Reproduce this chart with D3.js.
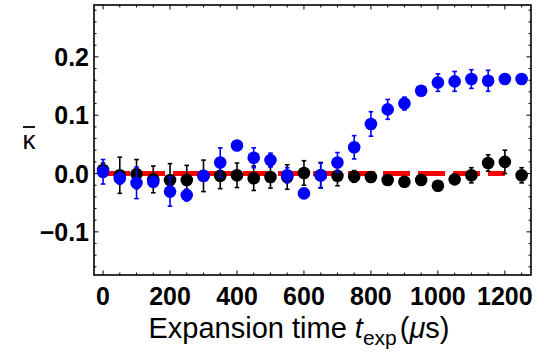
<!DOCTYPE html>
<html>
<head>
<meta charset="utf-8">
<script src="https://cdn.jsdelivr.net/npm/d3@7"></script>
<style>
  html, body { margin: 0; padding: 0; background: #fff; }
  svg { display: block; }
</style>
</head>
<body>
<div id="chart"></div>
<script>
// expansion times (us)
const times = [0, 50, 100, 150, 200, 250, 300, 350, 400, 450, 500, 550, 600,
  650, 700, 750, 800, 850, 900, 950, 1000, 1050, 1100, 1150, 1200, 1250];

const blueVals = [0.003, -0.008, -0.016, -0.014, -0.031, -0.037, -0.004, 0.019, 0.048, 0.027, 0.023, -0.003, -0.034,
  -0.003, 0.019, 0.045, 0.085, 0.110, 0.120, 0.142, 0.156, 0.158, 0.162, 0.159, 0.162, 0.162];
const blueErr = [0.021, 0.010, 0.027, 0.008, 0.025, 0.010, 0.008, 0.025, 0.006, 0.017, 0.012, 0.013, 0.005,
  0.021, 0.017, 0.020, 0.021, 0.017, 0.011, 0.006, 0.015, 0.017, 0.016, 0.018, 0.005, 0.005];

const blackVals = [0.006, -0.003, -0.001, -0.010, -0.011, -0.011, -0.004, -0.004, -0.003, -0.008, -0.006, -0.006, 0.001,
  -0.003, -0.004, -0.005, -0.006, -0.011, -0.014, -0.011, -0.021, -0.010, -0.003, 0.018, 0.020, -0.003];
const blackErr = [0.012, 0.031, 0.025, 0.023, 0.028, 0.025, 0.027, 0.022, 0.021, 0.021, 0.019, 0.021, 0.021,
  0.022, 0.017, 0.010, 0.008, 0.006, 0.005, 0.008, 0.008, 0.008, 0.013, 0.014, 0.020, 0.013];

// reference line
const refLine = [[0, 0], [1200, 0]];

const xTicks = [0, 200, 400, 600, 800, 1000, 1200];
const yTicks = [-0.1, 0.0, 0.1, 0.2];

const W = 545, H = 353;
const svg = d3.select('#chart').append('svg').attr('width', W).attr('height', H);

const x = d3.scaleLinear().domain([-27, 1278]).range([94, 531]);
const y = d3.scaleLinear().domain([-0.174, 0.289]).range([275, 5]);

const x0 = x.range()[0], x1 = x.range()[1];
const y0 = y.range()[0], y1 = y.range()[1];

// minor ticks
const xMinor = d3.range(0, 1251, 50).filter(d => !xTicks.includes(d));
const yMinor = d3.range(-16, 29, 2).map(d => d / 100).filter(d => Math.abs(Math.round(d * 100) % 10) !== 0);

const tickG = svg.append('g').attr('stroke', '#000').attr('stroke-width', 1);
function drawTicks(vals, len) {
  vals.forEach(v => {
    tickG.append('line').attr('x1', x(v)).attr('x2', x(v)).attr('y1', y0).attr('y2', y0 - len);
    tickG.append('line').attr('x1', x(v)).attr('x2', x(v)).attr('y1', y1).attr('y2', y1 + len);
  });
}
function drawYTicks(vals, len) {
  vals.forEach(v => {
    tickG.append('line').attr('y1', y(v)).attr('y2', y(v)).attr('x1', x0).attr('x2', x0 + len);
    tickG.append('line').attr('y1', y(v)).attr('y2', y(v)).attr('x1', x1).attr('x2', x1 - len);
  });
}
drawTicks(xTicks, 4.5);
drawTicks(xMinor, 2.5);
drawYTicks(yTicks, 4.5);
drawYTicks(yMinor, 2.5);

// red dashed reference
svg.append('path')
  .datum(refLine)
  .attr('fill', 'none')
  .attr('stroke', '#ff0000')
  .attr('stroke-width', 5)
  .attr('stroke-dasharray', '27,8')
  .attr('d', d3.line().x(d => x(d[0])).y(d => y(d[1])));

function drawSeries(vals, errs, color) {
  const g = svg.append('g');
  times.forEach((t, i) => {
    const cx = x(t);
    const lo = y(vals[i] - errs[i]), hi = y(vals[i] + errs[i]);
    g.append('line').attr('x1', cx).attr('x2', cx).attr('y1', lo).attr('y2', hi)
      .attr('stroke', color).attr('stroke-width', 1.6);
    [lo, hi].forEach(yy => {
      g.append('line').attr('x1', cx - 2.3).attr('x2', cx + 2.3).attr('y1', yy).attr('y2', yy)
        .attr('stroke', color).attr('stroke-width', 1.6);
    });
  });
  g.selectAll('circle').data(vals).enter().append('circle')
    .attr('cx', (_, i) => x(times[i]))
    .attr('cy', d => y(d))
    .attr('r', 6.3)
    .attr('fill', color);
}
drawSeries(blackVals, blackErr, '#000');
drawSeries(blueVals, blueErr, '#0000ff');

// frame
svg.append('rect')
  .attr('x', x0).attr('y', y1)
  .attr('width', x1 - x0).attr('height', y0 - y1)
  .attr('fill', 'none').attr('stroke', '#000').attr('stroke-width', 1.6);

// tick labels
const fmt = d => (d < 0 ? '\u2212' : '') + Math.abs(d).toFixed(1);
svg.append('g').selectAll('text').data(yTicks).enter().append('text')
  .attr('x', x0 - 5).attr('y', d => y(d))
  .attr('dy', '0.36em')
  .attr('text-anchor', 'end')
  .attr('font-family', 'Liberation Sans, Arial, sans-serif')
  .attr('font-weight', 'bold')
  .attr('font-size', 25)
  .text(fmt);

svg.append('g').selectAll('text').data(xTicks).enter().append('text')
  .attr('x', d => x(d)).attr('y', y0 + 30)
  .attr('text-anchor', 'middle')
  .attr('font-family', 'Liberation Sans, Arial, sans-serif')
  .attr('font-weight', 'bold')
  .attr('font-size', 25)
  .text(d => d);

// axis titles
const xt = svg.append('text')
  .attr('x', 299).attr('y', 338)
  .attr('text-anchor', 'middle')
  .attr('font-family', 'Liberation Sans, Arial, sans-serif')
  .attr('font-size', 29);
xt.append('tspan').text('Expansion time ');
xt.append('tspan').attr('font-style', 'italic').text('t');
xt.append('tspan').attr('font-size', 21).attr('dy', 7).text('exp');
xt.append('tspan').attr('dy', -7).attr('dx', 3).text('(');
xt.append('tspan').attr('font-style', 'italic').text('\u03bc');
xt.append('tspan').text('s)');

// y title: kappa with an overbar
const yl = svg.append('g');
yl.append('text')
  .attr('x', 29).attr('y', 149)
  .attr('text-anchor', 'middle')
  .attr('font-family', 'Liberation Sans, Arial, sans-serif')
  .attr('font-size', 26)
  .text('\u03ba');
yl.append('line')
  .attr('x1', 23).attr('x2', 35).attr('y1', 127).attr('y2', 127)
  .attr('stroke', '#000').attr('stroke-width', 1.8);
</script>
</body>
</html>
